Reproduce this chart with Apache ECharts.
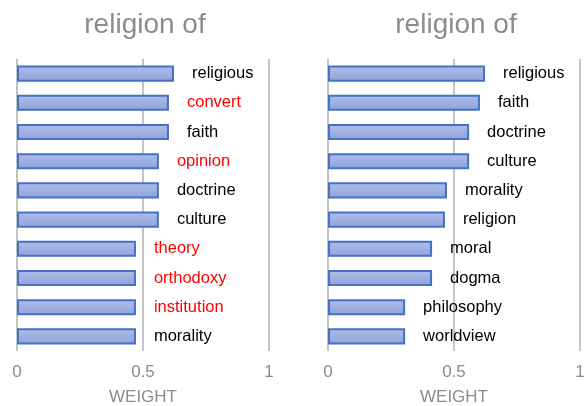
<!DOCTYPE html>
<html>
<head>
<meta charset="utf-8">
<script src="https://cdn.jsdelivr.net/npm/echarts@6/dist/echarts.min.js"></script>
<style>
html,body{margin:0;padding:0;background:#fff;}
#chart{width:585px;height:406px;}
</style>
</head>
<body>
<div id="chart"></div>
<script>
const titleText = "religion of";
const leftWords = ["religious","convert","faith","opinion","doctrine","culture","theory","orthodoxy","institution","morality"];
const leftValues = [0.623,0.603,0.603,0.563,0.563,0.563,0.472,0.472,0.472,0.472];
const rightWords = ["religious","faith","doctrine","culture","morality","religion","moral","dogma","philosophy","worldview"];
const rightValues = [0.623,0.603,0.56,0.56,0.472,0.464,0.413,0.413,0.306,0.306];
const redWords = ["convert","opinion","theory","orthodoxy","institution"];
const xTicks = [0,0.5,1];

const chart = echarts.init(document.getElementById('chart'), null, {renderer:'canvas'});
const font = 'Liberation Sans, Arial, sans-serif';
const barFill = new echarts.graphic.LinearGradient(0,0,0,1,[
  {offset:0,color:'#b0bee9'},{offset:1,color:'#8ea2da'}
]);

function makeData(words, values, reds){
  return values.map((v,i)=>({
    value:v,
    label:{color: reds.includes(words[i]) ? '#ff0000' : '#000000'}
  }));
}

const grids = [
  {left:17, width:252, top:59, height:292, outerBoundsMode:'none', containLabel:false},
  {left:328, width:252, top:59, height:292, outerBoundsMode:'none', containLabel:false}
];

function xAxis(idx){
  return {
    gridIndex: idx, type:'value', min:xTicks[0], max:xTicks[xTicks.length-1], interval:0.5,
    name:'WEIGHT', nameLocation:'middle', nameGap:38,
    nameTextStyle:{color:'#8c8c8c', fontSize:17, fontFamily:font},
    axisLine:{show:false}, axisTick:{show:false},
    axisLabel:{color:'#8c8c8c', fontSize:17, fontFamily:font, margin:13,
      formatter: v => String(v)},
    splitLine:{show:true, lineStyle:{color:'#c4c4c4', width:2}}
  };
}
function yAxis(idx, words){
  return {
    gridIndex: idx, type:'category', data:words, inverse:true,
    axisLine:{show:false}, axisTick:{show:false}, axisLabel:{show:false}, splitLine:{show:false}
  };
}
function series(idx, words, values){
  return {
    type:'bar', xAxisIndex:idx, yAxisIndex:idx,
    data: makeData(words, values, redWords),
    barCategoryGap:'45%',
    itemStyle:{color:barFill, borderColor:'#4472c4', borderWidth:2},
    label:{show:true, position:'right', distance:18, fontSize:16.5, fontFamily:font,
      formatter: p => words[p.dataIndex]},
    z:3
  };
}

chart.setOption({
  animation:false,
  title:[
    {text:titleText, left:140, top:6, textAlign:'center',
      textStyle:{color:'#8c8c8c', fontSize:28, fontWeight:'normal', fontFamily:font}},
    {text:titleText, left:451, top:6, textAlign:'center',
      textStyle:{color:'#8c8c8c', fontSize:28, fontWeight:'normal', fontFamily:font}}
  ],
  grid: grids,
  xAxis:[xAxis(0), xAxis(1)],
  yAxis:[yAxis(0,leftWords), yAxis(1,rightWords)],
  series:[series(0,leftWords,leftValues), series(1,rightWords,rightValues)]
});
</script>
</body>
</html>
